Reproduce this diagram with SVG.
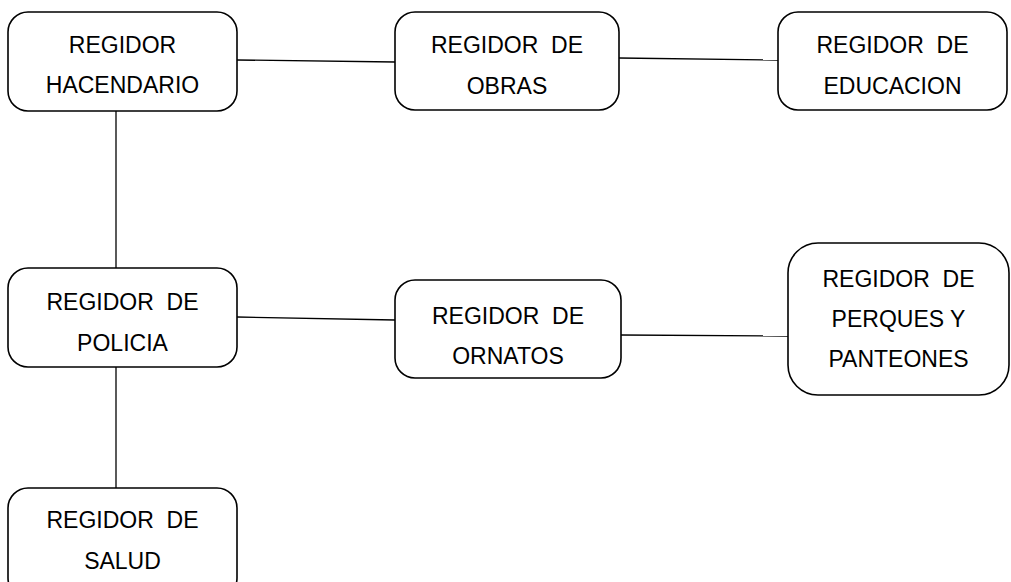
<svg xmlns="http://www.w3.org/2000/svg" width="1011" height="582" viewBox="0 0 1011 582">
<style>
.box{fill:#fff;stroke:#000;stroke-width:1.6}
.lbl{font-family:"Liberation Sans",Arial,sans-serif;font-size:23px;fill:#000;text-anchor:middle;white-space:pre}
.con line{stroke:#000;stroke-width:1.3}
</style>
<rect width="1011" height="582" fill="#fff"/>
<g class="con" id="connectors">
<line x1="237" y1="60" x2="395" y2="62"/>
<line x1="619" y1="58" x2="778" y2="60"/>
<line x1="116" y1="111" x2="116" y2="268"/>
<line x1="237" y1="317" x2="395" y2="320"/>
<line x1="621" y1="335" x2="788" y2="336"/>
<line x1="116" y1="367" x2="116" y2="488"/>
</g>
<g id="hacendario">
<rect class="box" x="8" y="12" width="229" height="99" rx="20"/>
<text class="lbl" x="122.5" y="53">REGIDOR</text>
<text class="lbl" x="122.5" y="93">HACENDARIO</text>
</g>
<g id="obras">
<rect class="box" x="395" y="12" width="224" height="98" rx="20"/>
<text class="lbl" x="507" y="53" xml:space="preserve">REGIDOR  DE</text>
<text class="lbl" x="507" y="94">OBRAS</text>
</g>
<g id="educacion">
<rect class="box" x="778" y="12" width="229" height="98" rx="20"/>
<text class="lbl" x="892.5" y="53" xml:space="preserve">REGIDOR  DE</text>
<text class="lbl" x="892.5" y="94">EDUCACION</text>
</g>
<g id="policia">
<rect class="box" x="8" y="268" width="229" height="99" rx="20"/>
<text class="lbl" x="122.5" y="310" xml:space="preserve">REGIDOR  DE</text>
<text class="lbl" x="122.5" y="351">POLICIA</text>
</g>
<g id="ornatos">
<rect class="box" x="395" y="280" width="226" height="98" rx="20"/>
<text class="lbl" x="508" y="324" xml:space="preserve">REGIDOR  DE</text>
<text class="lbl" x="508" y="364">ORNATOS</text>
</g>
<g id="parques">
<rect class="box" x="788" y="243" width="221" height="152" rx="30"/>
<text class="lbl" x="898.5" y="287" xml:space="preserve">REGIDOR  DE</text>
<text class="lbl" x="898.5" y="327">PERQUES Y</text>
<text class="lbl" x="898.5" y="367">PANTEONES</text>
</g>
<g id="salud">
<rect class="box" x="8" y="488" width="229" height="110" rx="20"/>
<text class="lbl" x="122.5" y="528" xml:space="preserve">REGIDOR  DE</text>
<text class="lbl" x="122.5" y="569">SALUD</text>
</g>
</svg>
